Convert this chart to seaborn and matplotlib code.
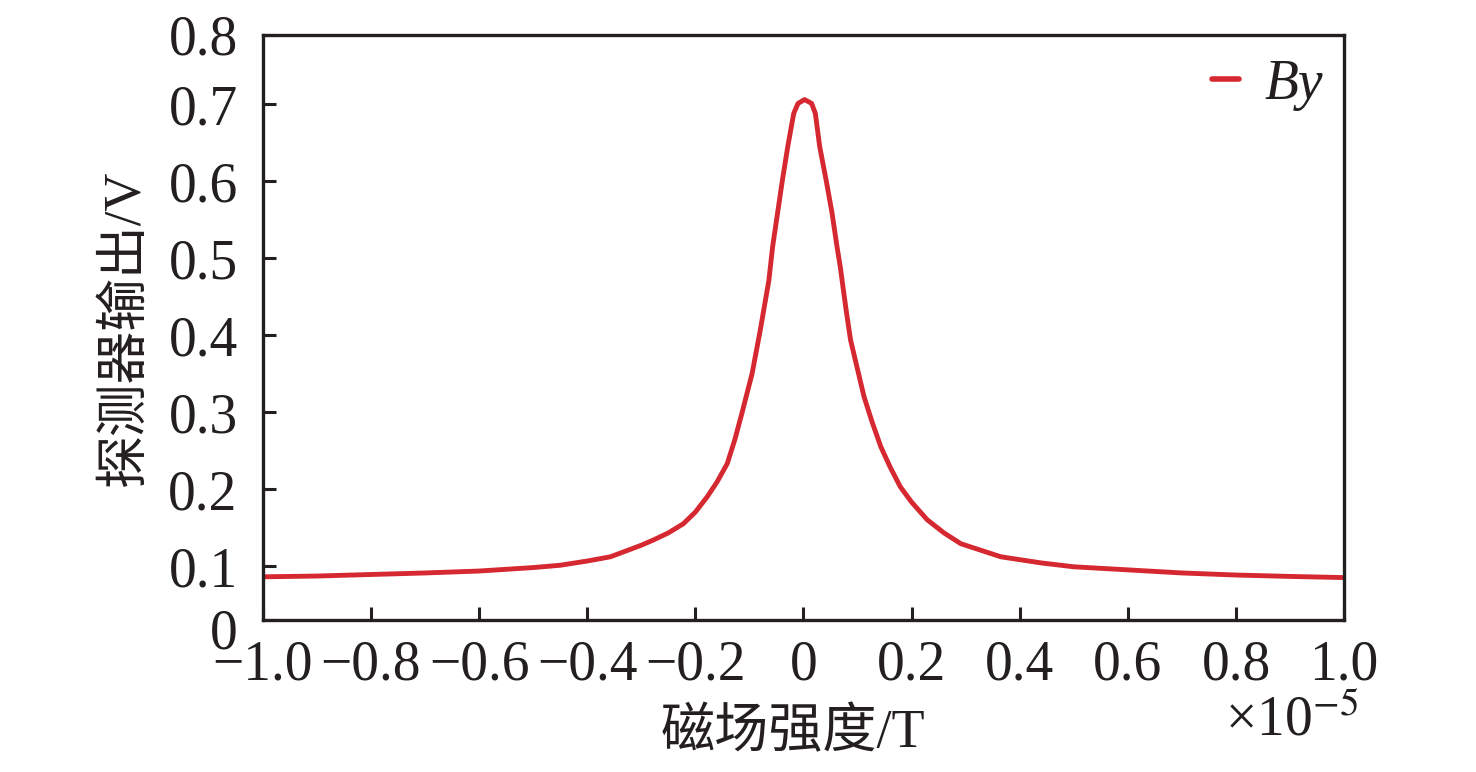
import matplotlib
matplotlib.use("Agg")
import matplotlib.pyplot as plt
import matplotlib.transforms as mtransforms
import seaborn as sns
import pandas as pd

# 磁场强度 (×1e-5 T) 与探测器输出 (V)
field = [-1.0, -0.9, -0.8, -0.7, -0.6, -0.5, -0.45, -0.4, -0.357, -0.3, -0.277,
         -0.25, -0.222, -0.2, -0.178, -0.16, -0.141, -0.127, -0.114, -0.095, -0.08,
         -0.064, -0.057, -0.048, -0.039, -0.029, -0.018, -0.010, 0.002, 0.015, 0.022,
         0.030, 0.042, 0.053, 0.062, 0.068, 0.079, 0.087, 0.112, 0.127, 0.143, 0.160,
         0.179, 0.2, 0.229, 0.26, 0.291, 0.365, 0.44, 0.5, 0.6, 0.7, 0.8, 0.9, 1.0]
output = [0.086, 0.087, 0.089, 0.091, 0.0935, 0.098, 0.101, 0.1065, 0.112, 0.127, 0.134,
          0.143, 0.155, 0.170, 0.190, 0.209, 0.233, 0.264, 0.298, 0.350, 0.406,
          0.471, 0.515, 0.558, 0.601, 0.645, 0.688, 0.701, 0.706, 0.701, 0.688,
          0.645, 0.601, 0.558, 0.515, 0.489, 0.432, 0.394, 0.320, 0.287, 0.255, 0.229,
          0.203, 0.183, 0.160, 0.143, 0.129, 0.112, 0.104, 0.099, 0.095, 0.091, 0.0883,
          0.0865, 0.085]

xticks = [-1.0, -0.8, -0.6, -0.4, -0.2, 0.0, 0.2, 0.4, 0.6, 0.8, 1.0]
xticklabels = ["\u22121.0", "\u22120.8", "\u22120.6", "\u22120.4", "\u22120.2", "0",
               "0.2", "0.4", "0.6", "0.8", "1.0"]
yticks = [0.03, 0.1, 0.2, 0.3, 0.4, 0.5, 0.6, 0.7, 0.79]
yticklabels = ["0", "0.1", "0.2", "0.3", "0.4", "0.5", "0.6", "0.7", "0.8"]

df = pd.DataFrame({"field": field, "output": output, "series": "By"})

sns.set_theme(style="ticks")
plt.rcParams["font.family"] = ["Liberation Serif", "Noto Sans CJK SC"]
plt.rcParams["mathtext.fontset"] = "stix"

ink = "#231f20"
red = "#d62830"

fig = plt.figure(figsize=(14.76, 7.72), dpi=100)
ax = fig.add_axes([0.178, 0.197, 0.7327, 0.7578])

sns.lineplot(data=df, x="field", y="output", hue="series", palette=[red],
             estimator=None, linewidth=3.5, ax=ax)

ax.set_xlim(-1.0, 1.0)
ax.set_ylim(0.03, 0.79)
ax.set_xticks(xticks, labels=xticklabels)
ax.set_yticks(yticks, labels=yticklabels)

for side in ["left", "right", "top", "bottom"]:
    ax.spines[side].set_linewidth(2.4)
    ax.spines[side].set_color(ink)

ax.tick_params(axis="both", direction="in", length=9.5, width=2.2, color=ink,
               labelsize=40, labelcolor=ink)
ax.tick_params(axis="x", pad=14)
ax.tick_params(axis="y", pad=18)

# 原点处的 "0" 略低于坐标轴
lbl0 = ax.get_yticklabels()[0]
lbl0.set_transform(lbl0.get_transform() +
                   mtransforms.ScaledTranslation(0, -9 / 100, fig.dpi_scale_trans))

ax.set_xlabel("磁场强度/T", fontsize=39, color=ink)
ax.xaxis.set_label_coords(0.49, -0.195)
ax.xaxis.label.set_va("center")
ax.set_ylabel("探测器输出/V", fontsize=38, color=ink)
ax.yaxis.set_label_coords(-0.127, 0.5)
ax.yaxis.label.set_va("center")

ax.text(0.951, -0.174, "\u00d710$^{-5}$", transform=ax.transAxes,
        ha="center", va="center", fontsize=40, color=ink)

leg = ax.legend(loc="center right", bbox_to_anchor=(1.006, 0.915), frameon=False,
                borderpad=0, handlelength=0.5, handletextpad=0.45,
                prop={"family": "Liberation Serif", "style": "italic", "size": 40})
for line in leg.get_lines():
    line.set_linewidth(4)
for t in leg.get_texts():
    t.set_color(ink)

fig.savefig("out.png", dpi=100)
